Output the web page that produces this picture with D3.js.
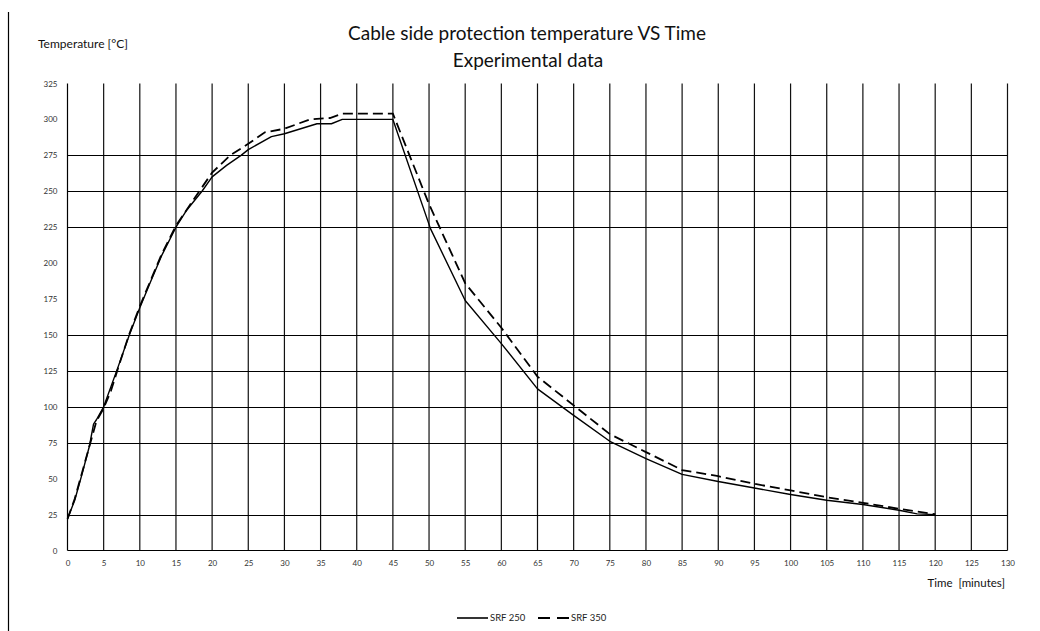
<!DOCTYPE html>
<html>
<head>
<meta charset="utf-8">
<script src="https://cdn.jsdelivr.net/npm/d3@7"></script>
<style>
  html, body { margin: 0; padding: 0; background: #fff; }
  svg { display: block; }
  text { font-family: Lato, "Liberation Sans", sans-serif; white-space: pre; }
</style>
</head>
<body>
<svg id="chart" width="1040" height="631"></svg>
<script>
// ---- data ----
const titleLines = ["Cable side protection temperature VS Time", "Experimental data"];
const yAxisTitle = "Temperature [°C]";
const xAxisTitle = "Time  [minutes]";
const seriesNames = ["SRF 250", "SRF 350"];

const xTicks = d3.range(0, 131, 5);
const yTicks = d3.range(0, 326, 25);
const yGridVisible = [25, 75, 100, 125, 150, 225, 250, 275];

const srf250Time = [0, 1, 2, 3, 3.6, 4, 5, 6.8, 8.55, 10, 11.4, 13, 15, 16.5, 18.6, 20, 22, 24, 25, 28.2, 30, 34.5, 36.5, 38, 45, 50.2, 55, 60, 65, 70, 75, 80, 85, 90, 95, 100, 105, 110, 115, 117.5, 120];
const srf250Temp = [22, 35, 53, 72, 88, 91, 100, 125, 150, 169, 186, 205, 225, 237, 250, 260, 268, 275, 279, 288, 290, 297, 297, 300, 300, 224, 174, 144, 112.5, 94, 76, 64, 53, 48, 43.5, 39, 35, 32, 28, 25.5, 25];

const srf350Time = [0, 1, 2, 3, 4, 5, 6, 7, 8.5, 10, 11.5, 13, 15, 17, 18.5, 20, 22.5, 25, 27.3, 30, 33.5, 36.3, 38, 45, 50, 55, 60, 65, 70, 75, 80, 85, 90, 95, 100, 105, 110, 115, 120];
const srf350Temp = [22, 36, 54, 72, 90, 99, 111, 127, 150, 170, 188, 206, 226, 241, 252, 263, 275, 283, 291, 293.5, 300, 301, 304, 304, 241, 186, 155, 121, 101, 81, 68.5, 56, 51.7, 46.4, 41.8, 37.1, 33.2, 29, 25.3];

// ---- chart ----
const svg = d3.select("#chart");
const x = d3.scaleLinear().domain([0, 130]).range([67.5, 1007.5]);
const y = d3.scaleLinear().domain([0, 325]).range([550.5, 83.5]);

// left page border
svg.append("line").attr("x1", 8.5).attr("x2", 8.5).attr("y1", 12).attr("y2", 631)
  .attr("stroke", "#000").attr("stroke-width", 1.2);

// title
svg.append("text").attr("x", 527).attr("y", 40).attr("text-anchor", "middle")
  .attr("font-size", 19).attr("fill", "#111").text(titleLines[0]);
svg.append("text").attr("x", 528).attr("y", 67).attr("text-anchor", "middle")
  .attr("font-size", 19).attr("fill", "#111").text(titleLines[1]);

// axis titles
svg.append("text").attr("x", 38).attr("y", 48).attr("font-size", 12).attr("fill", "#111").text(yAxisTitle);
svg.append("text").attr("x", 1005).attr("y", 587).attr("text-anchor", "end")
  .attr("font-size", 11.5).attr("fill", "#111").text(xAxisTitle);

// vertical gridlines
svg.append("g").selectAll("line").data(xTicks.filter(d => d > 0)).join("line")
  .attr("x1", d => x(d)).attr("x2", d => x(d))
  .attr("y1", y(325)).attr("y2", y(0))
  .attr("stroke", "#111").attr("stroke-width", 1.2);

// horizontal gridlines
svg.append("g").selectAll("line").data(yGridVisible).join("line")
  .attr("x1", x(0)).attr("x2", x(130))
  .attr("y1", d => Math.round(y(d)) + 0.5).attr("y2", d => Math.round(y(d)) + 0.5)
  .attr("stroke", "#000").attr("stroke-width", 1.2);

// axis lines
svg.append("line").attr("x1", x(0)).attr("x2", x(0)).attr("y1", y(325)).attr("y2", y(0))
  .attr("stroke", "#000").attr("stroke-width", 1.2);
svg.append("line").attr("x1", x(0)).attr("x2", x(130)).attr("y1", y(0)).attr("y2", y(0))
  .attr("stroke", "#000").attr("stroke-width", 1.2);

// axes (labels only)
const yAxis = svg.append("g").attr("transform", `translate(${x(0)},0)`)
  .call(d3.axisLeft(y).tickValues(yTicks).tickSize(0).tickPadding(10));
const xAxis = svg.append("g").attr("transform", `translate(0,${y(0)})`)
  .call(d3.axisBottom(x).tickValues(xTicks).tickSize(0).tickPadding(10));
[yAxis, xAxis].forEach(g => {
  g.select(".domain").remove();
  g.selectAll("text").attr("font-family", "'Liberation Sans', sans-serif")
    .attr("font-size", 8).attr("fill", "#333");
});

// series lines
const line = d3.line().x(d => x(d[0])).y(d => y(d[1]));
const s250 = srf250Time.map((t, i) => [t, srf250Temp[i]]);
const s350 = srf350Time.map((t, i) => [t, srf350Temp[i]]);

svg.append("path").datum(s250).attr("d", line)
  .attr("fill", "none").attr("stroke", "#000").attr("stroke-width", 1.4).attr("stroke-linejoin", "round");
svg.append("path").datum(s350).attr("d", line)
  .attr("fill", "none").attr("stroke", "#000").attr("stroke-width", 1.8)
  .attr("stroke-dasharray", "10,5");

// legend
const lg = svg.append("g");
lg.append("line").attr("x1", 457).attr("x2", 488).attr("y1", 618).attr("y2", 618)
  .attr("stroke", "#000").attr("stroke-width", 1.6);
lg.append("text").attr("x", 490).attr("y", 621).attr("font-size", 9.5).attr("fill", "#222").text(seriesNames[0]);
lg.append("line").attr("x1", 538).attr("x2", 569).attr("y1", 618).attr("y2", 618)
  .attr("stroke", "#000").attr("stroke-width", 1.8).attr("stroke-dasharray", "12,7");
lg.append("text").attr("x", 571).attr("y", 621).attr("font-size", 9.5).attr("fill", "#222").text(seriesNames[1]);
</script>
</body>
</html>
